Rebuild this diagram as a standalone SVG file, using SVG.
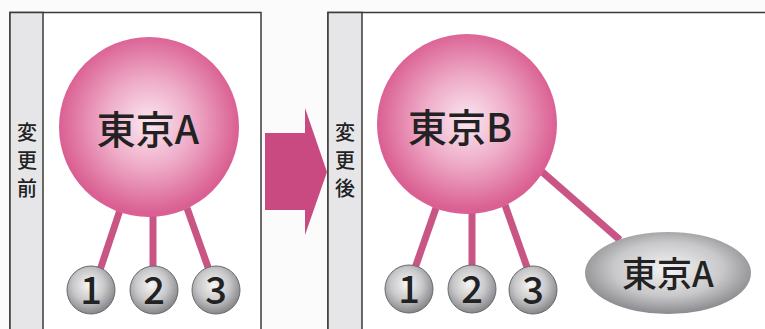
<svg xmlns="http://www.w3.org/2000/svg" width="765" height="329" viewBox="0 0 765 329">
<defs>
<radialGradient id="pink" cx="0.5" cy="0.48" r="0.5">
<stop offset="0" stop-color="#fbe8f0"/>
<stop offset="0.5" stop-color="#eeaac7"/>
<stop offset="1" stop-color="#da5f92"/>
</radialGradient>
<radialGradient id="gray" cx="0.45" cy="0.4" r="0.6">
<stop offset="0" stop-color="#f6f6f6"/>
<stop offset="0.55" stop-color="#c8c8ca"/>
<stop offset="1" stop-color="#86868a"/>
</radialGradient>
<radialGradient id="grayE" cx="0.5" cy="0.45" r="0.55">
<stop offset="0" stop-color="#f4f4f4"/>
<stop offset="0.6" stop-color="#c8c8ca"/>
<stop offset="1" stop-color="#8a8a8e"/>
</radialGradient>
</defs>
<style>
.frame{fill:#ffffff;stroke:#3a3a3a;stroke-width:1.5}
.strip{fill:#e6e6e9;stroke:#3a3a3a;stroke-width:1.5}
.big{fill:url(#pink)}
.small{fill:url(#gray);stroke:#6a6a6e;stroke-width:1}
.ell{fill:url(#grayE)}
.conn{stroke:#c95585;stroke-width:7;stroke-linecap:butt}
.t{font-family:"Noto Sans CJK JP","Noto Sans",sans-serif;fill:#222222;text-anchor:middle;font-weight:500}
.big-t{font-size:39px}
.num{font-size:38px}
.side{font-size:20px}
</style>
<rect x="0" y="0" width="765" height="329" fill="#fbfbfb"/>
<g id="panel-before">
<rect class="frame" x="10" y="12.5" width="251" height="330"/>
<rect class="strip" x="10" y="12.5" width="33" height="330"/>
<text class="t side" x="27" y="140">変</text>
<text class="t side" x="27" y="168">更</text>
<text class="t side" x="27" y="196">前</text>
</g>
<g id="panel-after">
<rect class="frame" x="328" y="12.5" width="450" height="330"/>
<rect class="strip" x="328" y="12.5" width="34" height="330"/>
<text class="t side" x="345" y="140">変</text>
<text class="t side" x="345" y="168">更</text>
<text class="t side" x="345" y="196">後</text>
</g>
<g id="arrow">
<polygon points="265,133 305,133 305,108 327,172 305,235 305,210 265,210" fill="#c94a80"/>
</g>
<g id="connectors">
<line class="conn" x1="120" y1="210" x2="100" y2="270"/>
<line class="conn" x1="153" y1="212" x2="153" y2="268"/>
<line class="conn" x1="187" y1="208" x2="209" y2="270"/>
<line class="conn" x1="436" y1="208" x2="415" y2="268"/>
<line class="conn" x1="472" y1="212" x2="472" y2="266"/>
<line class="conn" x1="505" y1="205" x2="528" y2="270"/>
<line class="conn" x1="540" y1="170" x2="620" y2="240"/>
</g>
<g id="tokyoA-before">
<circle class="big" cx="149" cy="127" r="90"/>
<text class="t big-t" x="148" y="144">東京A</text>
</g>
<g id="tokyoB">
<circle class="big" cx="467" cy="124" r="90"/>
<text class="t big-t" x="460" y="142">東京B</text>
</g>
<g id="n1-before"><circle class="small" cx="91" cy="290" r="24"/><text class="t num" x="91" y="304">1</text></g>
<g id="n2-before"><circle class="small" cx="154" cy="290" r="24"/><text class="t num" x="154" y="304">2</text></g>
<g id="n3-before"><circle class="small" cx="216" cy="290" r="24"/><text class="t num" x="216" y="304">3</text></g>
<g id="n1-after"><circle class="small" cx="409" cy="289" r="24"/><text class="t num" x="409" y="303">1</text></g>
<g id="n2-after"><circle class="small" cx="472" cy="289" r="24"/><text class="t num" x="472" y="303">2</text></g>
<g id="n3-after"><circle class="small" cx="533" cy="290" r="24"/><text class="t num" x="533" y="304">3</text></g>
<g id="tokyoA-after">
<ellipse class="ell" cx="668" cy="273" rx="83" ry="41"/>
<text class="t" style="font-size:35px" x="668" y="287">東京A</text>
</g>
</svg>
